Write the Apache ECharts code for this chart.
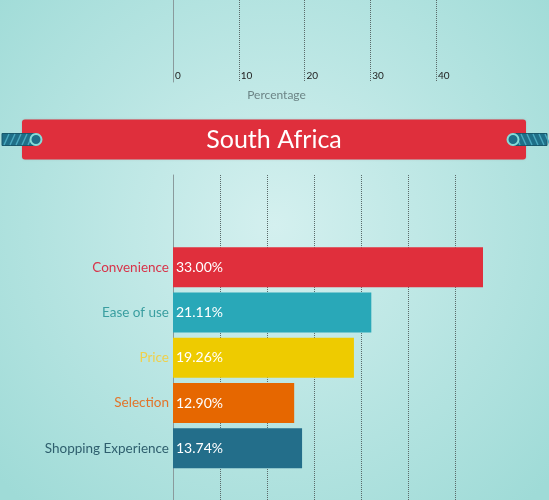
<!DOCTYPE html>
<html>
<head>
<meta charset="utf-8">
<script src="https://cdn.jsdelivr.net/npm/echarts@6/dist/echarts.min.js"></script>
<style>html,body{margin:0;padding:0;}#c{width:549px;height:500px;}</style>
</head>
<body>
<div id="c"></div>
<script>
const categories = ['Convenience', 'Ease of use', 'Price', 'Selection', 'Shopping Experience'];
const values = [33.00, 21.11, 19.26, 12.90, 13.74];
const barColors = ['#e02f3c', '#29a8b8', '#eecb00', '#e66700', '#236e8a'];
const labelColors = ['#d8344a', '#3a9ea0', '#f0d04a', '#e2742a', '#2f5f6e'];
const topTicks = [0, 10, 20, 30, 40];
const titleText = 'South Africa';
const axisTitle = 'Percentage';

const chart = echarts.init(document.getElementById('c'));
const FONT = 'Lato';

function ropeElements(x0, ringX, dir) {
  const els = [];
  els.push({ type: 'rect', z: 20, shape: { x: x0, y: 133.5, width: 34, height: 12 }, style: { fill: '#1f6f88', stroke: '#18586c', lineWidth: 1 } });
  for (let k = 0; k < 6; k++) {
    const x = x0 + 2 + k * 6;
    els.push({ type: 'line', z: 21, shape: dir > 0 ? { x1: x, y1: 145, x2: x + 5, y2: 134 } : { x1: x, y1: 134, x2: x + 5, y2: 145 }, style: { stroke: '#4aa9bf', lineWidth: 1.4 } });
  }
  els.push({ type: 'circle', z: 22, shape: { cx: ringX, cy: 139.5, r: 5.5 }, style: { fill: '#1f6f88', stroke: '#86ddd7', lineWidth: 2 } });
  return els;
}

const option = {
  animation: false,
  graphic: [
    { type: 'rect', z: -100, silent: true, shape: { x: 0, y: 0, width: 549, height: 500 },
      style: { fill: new echarts.graphic.RadialGradient(0.5, 0.45, 0.75, [
        { offset: 0, color: '#d4f0ef' }, { offset: 1, color: '#9fdbd7' }]) } },
    { type: 'rect', z: 10, shape: { x: 22, y: 119.5, width: 504, height: 40, r: 3 },
      style: { fill: '#df2f3c', shadowBlur: 2, shadowColor: 'rgba(0,0,0,0.15)' } },
    { type: 'text', z: 11, x: 274, y: 139.5,
      style: { text: titleText, fill: '#ffffff', font: '25px ' + FONT, align: 'center', verticalAlign: 'middle' } },
    ...ropeElements(2, 36, 1),
    ...ropeElements(513, 513, -1)
  ],
  grid: [
    { left: 173, top: -20, width: 263, height: 102 },
    { left: 173, top: 175, width: 310, height: 345 },
    { left: 173, top: 244.6, width: 310, height: 226.3 }
  ],
  xAxis: [
    { gridIndex: 0, type: 'value', min: topTicks[0], max: topTicks[topTicks.length - 1], interval: 10,
      axisLine: { show: false }, axisTick: { show: false },
      splitLine: { show: true, showMinLine: false, lineStyle: { type: 'dotted', color: '#5a6a6a', width: 1 } },
      axisLabel: { inside: true, align: 'left', margin: 1, padding: [0, 0, 0, 2], fontSize: 10, color: '#222', fontFamily: FONT },
      name: axisTitle, nameLocation: 'middle', nameGap: 7,
      nameTextStyle: { fontSize: 12, color: '#6c8486', fontFamily: FONT, padding: [0, 56, 0, 0] } },
    { gridIndex: 1, type: 'value', min: 0, max: 33, interval: 5,
      axisLine: { show: false }, axisTick: { show: false }, axisLabel: { show: false },
      splitLine: { show: true, showMinLine: false, showMaxLine: false, lineStyle: { type: 'dotted', color: '#5a6a6a', width: 1 } } },
    { gridIndex: 2, type: 'value', min: 0, max: 33, show: false }
  ],
  yAxis: [
    { gridIndex: 0, type: 'value', min: 0, max: 1, axisLine: { show: true, lineStyle: { color: '#8a9a9c' } },
      axisTick: { show: false }, axisLabel: { show: false }, splitLine: { show: false } },
    { gridIndex: 1, type: 'value', min: 0, max: 1, axisLine: { show: true, lineStyle: { color: '#8a9a9c' } },
      axisTick: { show: false }, axisLabel: { show: false }, splitLine: { show: false } },
    { gridIndex: 2, type: 'category', data: categories, inverse: true,
      axisLine: { show: false }, axisTick: { show: false }, splitLine: { show: false },
      axisLabel: { margin: 4, fontSize: 13.5, fontFamily: FONT,
        color: (v, i) => labelColors[categories.indexOf(v)] } }
  ],
  series: [{
    type: 'bar', xAxisIndex: 2, yAxisIndex: 2, barWidth: 40, z: 5,
    data: values.map((v, i) => ({ value: v, itemStyle: { color: barColors[i] } })),
    label: { show: true, position: 'insideLeft', distance: 3, color: '#ffffff', fontSize: 14, fontFamily: FONT,
      formatter: p => p.value.toFixed(2) + '%' }
  }]
};
chart.setOption(option);
</script>
</body>
</html>
